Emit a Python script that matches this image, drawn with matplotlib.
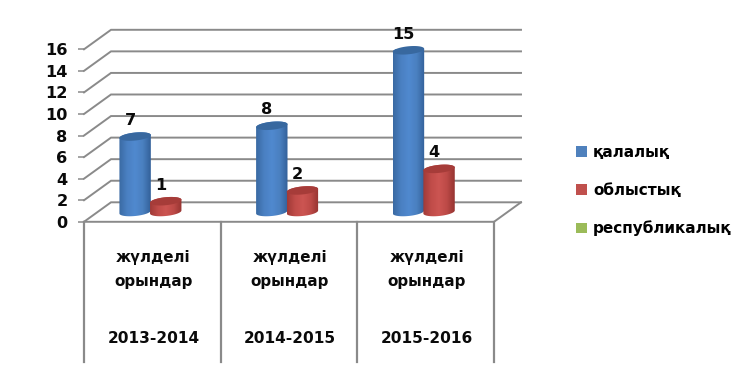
import numpy as np
import matplotlib
matplotlib.use("Agg")
import matplotlib.pyplot as plt
from matplotlib.patches import Patch, PathPatch
from matplotlib.path import Path
from matplotlib.colors import LinearSegmentedColormap

periods = ["2013-2014", "2014-2015", "2015-2016"]
category_label = "жүлделі\nорындар"
series_names = ["қалалық", "облыстық", "республикалық"]
qalalyq = [7, 8, 15]
oblystyq = [1, 2, 4]
yticks = [0, 2, 4, 6, 8, 10, 12, 14, 16]
colors = ["#4f81bd", "#c0504d", "#9bbb59"]
shades = {
    "#4f81bd": ["#3a6aa3", "#4a80c2", "#5089cf", "#4a80c0", "#33609a"],
    "#c0504d": ["#a03a37", "#c04c49", "#cc5552", "#bd4a47", "#963431"],
}
tops = {"#4f81bd": "#38689f", "#c0504d": "#a63c39"}

W, H = 752, 377
X0, X1, Y0, Y16 = 84, 494, 221.8, 49.3
GRID = "#8a8a8a"
fs = 11.3
fam = ["DejaVu Sans"]

fig = plt.figure(figsize=(W / 100, H / 100), dpi=100, facecolor="white")
ax = fig.add_axes([X0 / W, 1 - Y0 / H, (X1 - X0) / W, (Y0 - Y16) / H])
ax.set_xlim(0, 3)
ax.set_ylim(0, 16)
ax.patch.set_alpha(0)
for s in ax.spines.values():
    s.set_visible(False)

ux = (X1 - X0) / 3
uy = (Y0 - Y16) / 16
def dx(p):
    return p / ux
def dy(p):
    return p / uy

# wall depth
DX, DY = dx(27), dy(19.5)

# grid: diagonal on the left wall + horizontal on the back wall
for v in yticks:
    ax.plot([0, DX, 3 + DX], [v, v + DY, v + DY], color=GRID, lw=1.4,
            clip_on=False, zorder=1, solid_joinstyle="miter")
# floor front + right edge
ax.plot([0, 3, 3 + DX], [0, 0, DY], color=GRID, lw=1.4, clip_on=False, zorder=1)

# category separators
for i in range(4):
    ax.plot([i, i], [0, dy(-140)], color=GRID, lw=1.6, clip_on=False, zorder=1)

# y axis ticks / labels
ax.set_yticks(yticks)
ax.set_yticklabels([str(v) for v in yticks], fontsize=fs + 0.3, fontweight="bold",
                   family=fam, color="#0a0a0a")
ax.tick_params(axis="y", length=4.4, width=1.1, color=GRID, pad=7.5)
ax.set_xticks([])

HALF = 15.7   # cylinder half width, px
B = 4.0       # ellipse half height, px
TILT = 1.5    # ellipse tilt, px
BASE = 9.8    # base lift above the front floor edge, px


def cylinder(xc, value, color):
    hw, b, t = dx(HALF), dy(B), dy(TILT)
    y0 = dy(BASE)
    y1 = y0 + value
    ang = np.linspace(0, 2 * np.pi, 80)
    # body: lower half of the bottom ellipse joined to upper half of the top
    a1 = np.linspace(np.pi, 2 * np.pi, 40)
    bx = xc + hw * np.cos(a1)
    by = y0 + b * np.sin(a1) + t * np.cos(a1)
    a2 = np.linspace(0, np.pi, 40)
    tx = xc + hw * np.cos(a2)
    ty = y1 + b * np.sin(a2) + t * np.cos(a2)
    verts = np.column_stack([np.r_[bx, tx], np.r_[by, ty]])
    clip = PathPatch(Path(np.vstack([verts, verts[0]]), closed=True),
                     facecolor="none", edgecolor="none", transform=ax.transData)
    ax.add_patch(clip)
    cmap = LinearSegmentedColormap.from_list("c", shades[color])
    grad = np.linspace(0, 1, 64).reshape(1, -1)
    im = ax.imshow(grad, cmap=cmap, aspect="auto", zorder=3,
                   extent=[xc - hw, xc + hw, y0 - 2 * b, y1 + 2 * b])
    im.set_clip_path(clip)
    # top cap
    ex = xc + hw * np.cos(ang)
    ey = y1 + b * np.sin(ang) + t * np.cos(ang)
    ax.fill(ex, ey, color=tops[color], lw=0, zorder=3.2, clip_on=False)


centers = np.arange(3) + 0.5
for i, c in enumerate(centers):
    xb = c + dx(-17.2)
    xr = c + dx(13.4)
    cylinder(xb, qalalyq[i], colors[0])
    cylinder(xr, oblystyq[i], colors[1])
    for x, v in ((xb, qalalyq[i]), (xr, oblystyq[i])):
        ax.text(x + dx(-5), v + dy(BASE + 16), str(v), ha="center", va="center",
                fontsize=fs + 0.3, fontweight="bold", family=fam, color="#0a0a0a",
                zorder=5, clip_on=False)
    ax.text(c + dx(1), dy(-47.5), category_label, ha="center", va="center",
            fontsize=fs - 0.4, fontweight="bold", family=fam, color="#0a0a0a",
            linespacing=1.75, clip_on=False)
    ax.text(c + dx(1), dy(-117), periods[i], ha="center", va="center",
            fontsize=fs - 0.2, fontweight="bold", family=fam, color="#0a0a0a",
            clip_on=False)

ax.set_xlim(0, 3)
ax.set_ylim(0, 16)

handles = [Patch(facecolor=c, edgecolor="none") for c in colors]
fig.legend(handles, series_names, loc="upper left",
           bbox_to_anchor=(562 / W, 1 - 131 / H), frameon=False,
           prop={"family": fam, "weight": "bold", "size": 11.0},
           handlelength=0.72, handleheight=0.72, handletextpad=0.42,
           labelspacing=1.5)

fig.savefig("out.png", dpi=100, facecolor="white")
